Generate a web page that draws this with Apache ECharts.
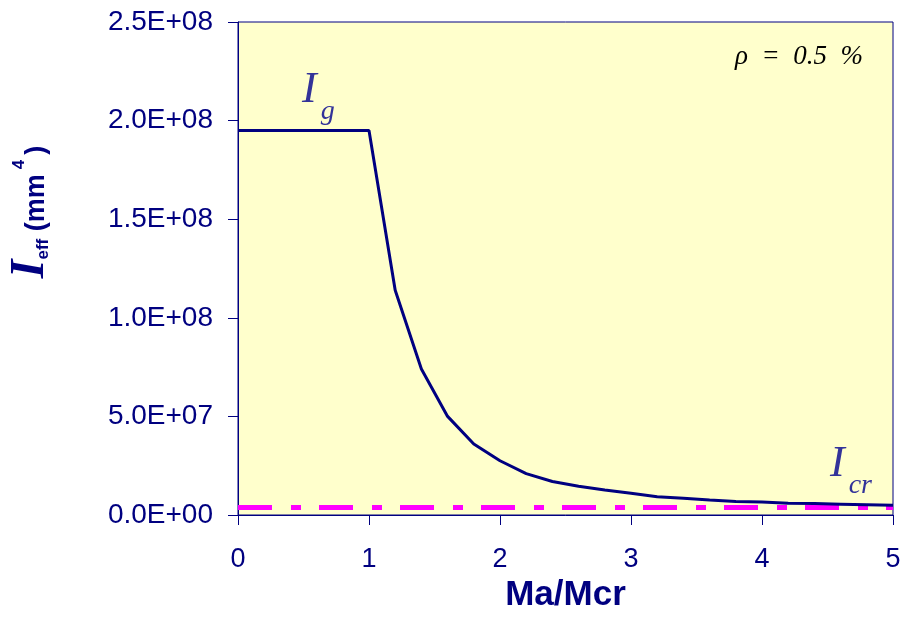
<!DOCTYPE html>
<html>
<head>
<meta charset="utf-8">
<script src="https://cdn.jsdelivr.net/npm/echarts@6/dist/echarts.min.js"></script>
<style>
    html, body { margin: 0; padding: 0; background: #fff; }
    #chart { width: 912px; height: 619px; }
</style>
</head>
<body>
<div id="chart"></div>
<script>
// Ma/Mcr ratio
const ratioValues = [0, 0.2, 0.4, 0.6, 0.8, 1.0, 1.2, 1.4, 1.6, 1.8, 2.0, 2.2, 2.4, 2.6, 2.8,
    3.0, 3.2, 3.4, 3.6, 3.8, 4.0, 4.2, 4.4, 4.6, 4.8, 5.0];
// effective moment of inertia (mm^4)
const ieffValues = [1.95e8, 1.95e8, 1.95e8, 1.95e8, 1.95e8, 1.95e8, 1.14e8, 7.4e7, 5.0e7, 3.6e7, 2.75e7,
    2.1e7, 1.7e7, 1.46e7, 1.27e7, 1.1e7, 9.3e6, 8.5e6, 7.6e6, 6.8e6, 6.6e6, 6.0e6, 5.8e6, 5.5e6, 5.2e6, 4.9e6];
// cracked moment of inertia
const icrRange = [0, 5];
const icrValue = 3.8e6;
const yTicks = [0, 5e7, 1e8, 1.5e8, 2e8, 2.5e8];
const xTicks = [0, 1, 2, 3, 4, 5];

const navy = '#000080';

function sci(v) {
    if (v === 0) return '0.0E+00';
    const e = Math.floor(Math.log10(v));
    const m = v / Math.pow(10, e);
    return m.toFixed(1) + 'E+' + String(e).padStart(2, '0');
}

const myChart = echarts.init(document.getElementById('chart'));

const option = {
    animation: false,
    backgroundColor: '#fff',
    grid: {
        left: 238,
        right: 19,
        top: 22,
        bottom: 104,
        show: true,
        backgroundColor: '#FFFFCC',
        borderColor: navy,
        borderWidth: 1
    },
    xAxis: {
        type: 'value',
        min: xTicks[0],
        max: xTicks[xTicks.length - 1],
        interval: 1,
        name: 'Ma/Mcr',
        nameLocation: 'middle',
        nameGap: 62,
        nameTextStyle: {
            color: navy,
            fontFamily: 'Liberation Sans, Arial',
            fontWeight: 'bold',
            fontSize: 35
        },
        axisLine: { lineStyle: { color: navy, width: 1 } },
        axisTick: { show: true, inside: false, length: 10, lineStyle: { color: navy } },
        axisLabel: {
            color: navy,
            fontFamily: 'Liberation Sans, Arial',
            fontSize: 27,
            margin: 31
        },
        splitLine: { show: false }
    },
    yAxis: {
        type: 'value',
        min: yTicks[0],
        max: yTicks[yTicks.length - 1],
        interval: 5e7,
        axisLine: { show: true, lineStyle: { color: navy, width: 1 } },
        axisTick: { show: true, inside: false, length: 10, lineStyle: { color: navy } },
        axisLabel: {
            color: navy,
            fontFamily: 'Liberation Sans, Arial',
            fontSize: 28,
            margin: 25,
            formatter: sci
        },
        splitLine: { show: false }
    },
    graphic: [
        {
            type: 'text',
            x: 32,
            y: 212,
            rotation: Math.PI / 2,
            style: {
                text: '{i|I}{sub|eff}{u| (mm}{sup|4}{u|)}',
                align: 'center',
                verticalAlign: 'middle',
                fill: navy,
                rich: {
                    i: { fontFamily: 'Liberation Serif, Times New Roman', fontStyle: 'italic', fontWeight: 'bold', fontSize: 48, fill: navy, verticalAlign: 'bottom', lineHeight: 46 },
                    sub: { fontFamily: 'Liberation Sans, Arial', fontWeight: 'bold', fontSize: 17, fill: navy, verticalAlign: 'bottom', lineHeight: 46, padding: [0, 0, 3, 0] },
                    u: { fontFamily: 'Liberation Sans, Arial', fontWeight: 'bold', fontSize: 27, fill: navy, verticalAlign: 'bottom', lineHeight: 46, padding: [0, 0, 5, 0] },
                    sup: { fontFamily: 'Liberation Sans, Arial', fontWeight: 'bold', fontSize: 17, fill: navy, verticalAlign: 'top', lineHeight: 46, padding: [2, 5, 0, 5] }
                }
            }
        },
        {
            type: 'text',
            x: 302,
            y: 70,
            style: {
                text: '{i|I}{s|g}',
                rich: {
                    i: { fontFamily: 'Liberation Serif, Times New Roman', fontStyle: 'italic', fontSize: 44, fill: '#333399', verticalAlign: 'bottom', lineHeight: 42 },
                    s: { fontFamily: 'Liberation Serif, Times New Roman', fontStyle: 'italic', fontSize: 28, fill: '#333399', verticalAlign: 'bottom', lineHeight: 42, padding: [0, 0, -14, 4] }
                }
            }
        },
        {
            type: 'text',
            x: 830,
            y: 444,
            style: {
                text: '{i|I}{s|cr}',
                rich: {
                    i: { fontFamily: 'Liberation Serif, Times New Roman', fontStyle: 'italic', fontSize: 44, fill: '#333399', verticalAlign: 'bottom', lineHeight: 42 },
                    s: { fontFamily: 'Liberation Serif, Times New Roman', fontStyle: 'italic', fontSize: 28, fill: '#333399', verticalAlign: 'bottom', lineHeight: 42, padding: [0, 0, -14, 4] }
                }
            }
        },
        {
            type: 'text',
            x: 799,
            y: 57,
            style: {
                text: 'ρ  =  0.5  %',
                align: 'center',
                verticalAlign: 'middle',
                fill: '#000',
                fontFamily: 'Liberation Serif, Times New Roman',
                fontStyle: 'italic',
                fontSize: 27
            }
        }
    ],
    series: [
        {
            name: 'Icr',
            type: 'line',
            showSymbol: false,
            lineStyle: { color: '#FF00FF', width: 5, type: [34, 19, 10, 18], dashOffset: 0 },
            data: icrRange.map(x => [x, icrValue]),
            z: 2
        },
        {
            name: 'Ieff',
            type: 'line',
            showSymbol: false,
            lineStyle: { color: navy, width: 3 },
            data: ratioValues.map((x, i) => [x, ieffValues[i]]),
            z: 3
        }
    ]
};

myChart.setOption(option);
</script>
</body>
</html>
